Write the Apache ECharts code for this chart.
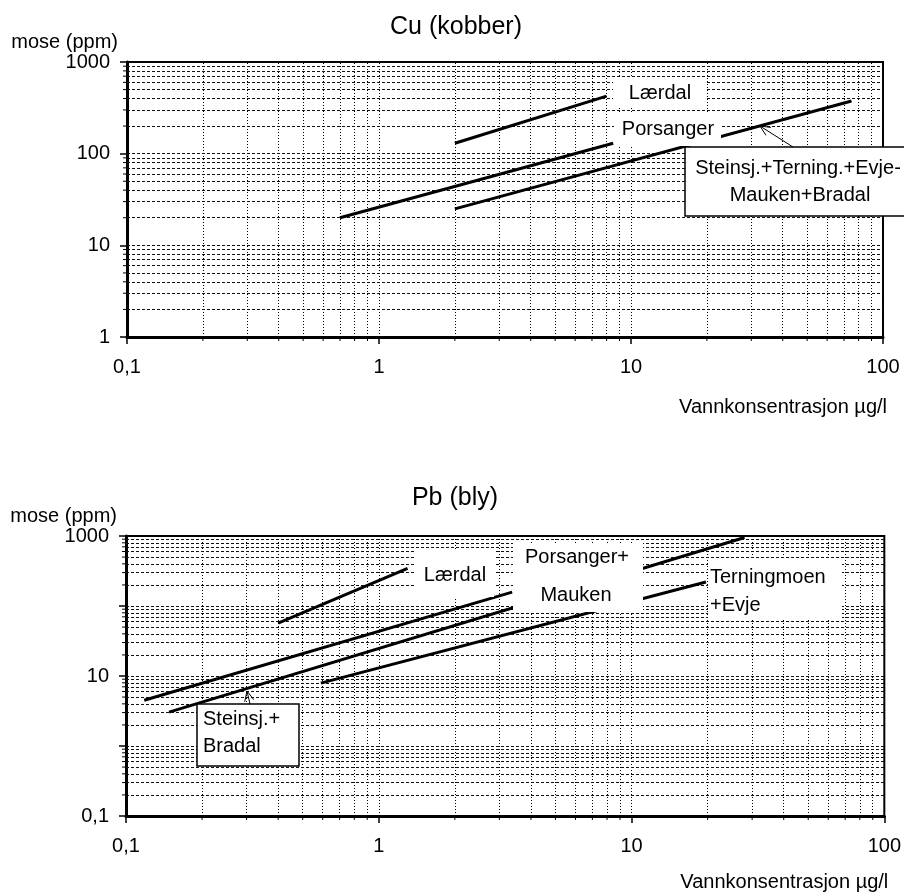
<!DOCTYPE html>
<html>
<head>
<meta charset="utf-8">
<script src="https://cdn.jsdelivr.net/npm/echarts@6/dist/echarts.min.js"></script>
<style>
html,body{margin:0;padding:0;background:#fff;}
#c{width:904px;height:894px;}
</style>
</head>
<body>
<div id="c"></div>
<script>
// ---------- DATA ----------
// Cu (kobber): [vannkonsentrasjon µg/l, mose ppm]
const cuLaerdal    = [[2, 130], [8, 425]];
const cuPorsanger  = [[0.7, 20], [8.5, 130]];
const cuSteinsj    = [[2, 25], [75, 375]];   // Steinsj.+Terning.+Evje-Mauken+Bradal
// Pb (bly)
const pbLaerdal       = [[0.4, 57], [1.3, 345]];
const pbPorsMauken    = [[0.118, 4.5], [3.37, 158]];
const pbSteinsjBradal = [[0.148, 3.05], [28, 950]];
const pbTernEvje      = [[0.59, 7.9], [19.7, 220]];

const xTickLabels  = [0.1, 1, 10, 100];
const cuYTickLabels = [1, 10, 100, 1000];
const pbYTickLabels = [0.1, 10, 1000];

const cuTitle = 'Cu (kobber)';
const pbTitle = 'Pb (bly)';
const yName = 'mose (ppm)';
const xName = 'Vannkonsentrasjon µg/l';

// ---------- HELPERS ----------
const FONT = '"Liberation Sans", Arial, Helvetica, sans-serif';
const chart = echarts.init(document.getElementById('c'), null, {renderer: 'canvas'});

function fmtNum(v) {
  return v < 1 ? v.toFixed(1).replace('.', ',') : String(Math.round(v));
}
function inList(v, list) {
  return list.some(t => Math.abs(Math.log10(v) - Math.log10(t)) < 1e-6);
}
function decadeValues(min, max) {
  const out = [];
  const e0 = Math.round(Math.log10(min)), e1 = Math.round(Math.log10(max));
  for (let e = e0; e < e1; e++) {
    for (let k = 1; k <= 9; k++) {
      out.push({v: parseFloat((k * Math.pow(10, e)).toPrecision(6)), major: k === 1});
    }
  }
  out.push({v: max, major: true});
  return out;
}

function xAxisDef(gi, padTop) {
  return {
    type: 'log', logBase: 10, gridIndex: gi, min: 0.1, max: 100,
    axisLine: {show: true, onZero: false, lineStyle: {color: '#000', width: 3}},
    axisTick: {show: true, length: 7, lineStyle: {color: '#000', width: 1.5}},
    axisLabel: {show: true, margin: 20, color: '#000', fontSize: 20, fontFamily: FONT,
      formatter: v => inList(v, xTickLabels) ? fmtNum(v) : ''},
    splitLine: {show: false},
    name: xName, nameLocation: 'end', nameGap: 4,
    nameTextStyle: {color: '#000', fontSize: 20, fontFamily: FONT, align: 'right',
      verticalAlign: 'top', padding: [padTop, 0, 0, 0]}
  };
}
function yAxisDef(gi, min, max, labels) {
  return {
    type: 'log', logBase: 10, gridIndex: gi, min: min, max: max,
    axisLine: {show: true, onZero: false, lineStyle: {color: '#000', width: 3}},
    axisTick: {show: true, length: 7, lineStyle: {color: '#000', width: 1.5}},
    axisLabel: {show: true, margin: 17, color: '#000', fontSize: 20, fontFamily: FONT,
      formatter: v => inList(v, labels) ? fmtNum(v) : ''},
    splitLine: {show: false},
    name: yName, nameLocation: 'end', nameGap: 19,
    nameTextStyle: {color: '#000', fontSize: 20, fontFamily: FONT, align: 'right',
      verticalAlign: 'middle', padding: [0, 9, 0, 0]}
  };
}
function dataSeries(name, data, gi) {
  return {type: 'line', name, data, xAxisIndex: gi, yAxisIndex: gi,
    symbol: 'none', silent: true, z: 3, animation: false,
    lineStyle: {color: '#000', width: 3}};
}
function gridSeries(gi, x0, x1, y0, y1) {
  const items = [];
  decadeValues(x0, x1).forEach(d => {
    if (d.v > x0 && d.v < x1) items.push({xAxis: d.v, lineStyle: {type: [1, 2], color: '#000', width: 1}});
  });
  decadeValues(y0, y1).forEach(d => {
    if (d.v > y0 && d.v < y1) items.push({yAxis: d.v, lineStyle: {type: [3, 2], color: '#111', width: 1}});
  });
  return {type: 'line', data: [], xAxisIndex: gi, yAxisIndex: gi, z: 1, silent: true, animation: false,
    markLine: {silent: true, symbol: 'none', z: 1, animation: false, label: {show: false},
      emphasis: {disabled: true}, data: items}};
}

const option = {
  backgroundColor: '#fff',
  animation: false,
  title: [
    {text: cuTitle, left: 456, top: 15, textAlign: 'center', padding: 0,
      textStyle: {fontSize: 25, fontWeight: 'normal', color: '#000', fontFamily: FONT}},
    {text: pbTitle, left: 455, top: 486, textAlign: 'center', padding: 0,
      textStyle: {fontSize: 25, fontWeight: 'normal', color: '#000', fontFamily: FONT}}
  ],
  grid: [
    {left: 127, top: 62, right: 21, height: 275, show: true, borderColor: '#000', borderWidth: 2, backgroundColor: 'transparent'},
    {left: 126, top: 536, right: 19, height: 280, show: true, borderColor: '#000', borderWidth: 2, backgroundColor: 'transparent'}
  ],
  xAxis: [xAxisDef(0, 60), xAxisDef(1, 56)],
  yAxis: [yAxisDef(0, 1, 1000, cuYTickLabels), yAxisDef(1, 0.1, 1000, pbYTickLabels)],
  series: [
    gridSeries(0, 0.1, 100, 1, 1000),
    gridSeries(1, 0.1, 100, 0.1, 1000),
    dataSeries('Lærdal', cuLaerdal, 0),
    dataSeries('Porsanger', cuPorsanger, 0),
    dataSeries('Steinsj.+Terning.+Evje-Mauken+Bradal', cuSteinsj, 0),
    dataSeries('Lærdal', pbLaerdal, 1),
    dataSeries('Porsanger+Mauken', pbPorsMauken, 1),
    dataSeries('Steinsj.+Bradal', pbSteinsjBradal, 1),
    dataSeries('Terningmoen+Evje', pbTernEvje, 1)
  ]
};
chart.setOption(option);

// ---------- ANNOTATIONS / MINOR TICKS ----------
const els = [];
function px(gi, x, y) { return chart.convertToPixel({gridIndex: gi}, [x, y]); }
[[0, 0.1, 100, 1, 1000], [1, 0.1, 100, 0.1, 1000]].forEach(([gi, x0, x1, y0, y1]) => {
  decadeValues(x0, x1).forEach(d => {
    if (!d.major) {
      const p = px(gi, d.v, y0);
      els.push({type: 'line', silent: true, z: 50,
        shape: {x1: p[0], y1: p[1], x2: p[0], y2: p[1] + 4}, style: {stroke: '#000', lineWidth: 1}});
    }
  });
  decadeValues(y0, y1).forEach(d => {
    if (!d.major) {
      const p = px(gi, x0, d.v);
      els.push({type: 'line', silent: true, z: 50,
        shape: {x1: p[0] - 4, y1: p[1], x2: p[0], y2: p[1]}, style: {stroke: '#000', lineWidth: 1}});
    }
  });
});
function whiteRect(x, y, w, h) {
  return {type: 'rect', silent: true, z: 60, shape: {x, y, width: w, height: h}, style: {fill: '#fff'}};
}
function boxRect(x, y, w, h) {
  return {type: 'rect', silent: true, z: 60, shape: {x, y, width: w, height: h},
    style: {fill: '#fff', stroke: '#000', lineWidth: 1.5}};
}
function txt(s, x, y, align) {
  return {type: 'text', silent: true, z: 62, x, y,
    style: {text: s, font: '20px ' + FONT, fill: '#000',
      align: align || 'center', verticalAlign: 'middle',
      textAlign: align || 'center', textVerticalAlign: 'middle'}};
}
function arrow(tx, ty, fx, fy) {
  const dx = fx - tx, dy = fy - ty, L = Math.hypot(dx, dy);
  const ux = dx / L, uy = dy / L, a = 25 * Math.PI / 180, len = 11;
  const w1 = [tx + len * (ux * Math.cos(a) - uy * Math.sin(a)), ty + len * (ux * Math.sin(a) + uy * Math.cos(a))];
  const w2 = [tx + len * (ux * Math.cos(-a) - uy * Math.sin(-a)), ty + len * (ux * Math.sin(-a) + uy * Math.cos(-a))];
  return [
    {type: 'line', silent: true, z: 63, shape: {x1: fx, y1: fy, x2: tx, y2: ty}, style: {stroke: '#000', lineWidth: 1}},
    {type: 'polyline', silent: true, z: 63, shape: {points: [w1, [tx, ty], w2]}, style: {stroke: '#000', lineWidth: 1, fill: null}}
  ];
}
// Cu
els.push(whiteRect(613, 77, 92, 31), txt('Lærdal', 660, 93));
els.push(whiteRect(614, 113, 107, 33), txt('Porsanger', 668, 129));
els.push(boxRect(685, 147, 240, 69), txt('Steinsj.+Terning.+Evje-', 798, 168), txt('Mauken+Bradal', 800, 195));
els.push(...arrow(760, 126, 793, 147));
// Pb
els.push(whiteRect(415, 550, 79, 47), txt('Lærdal', 455, 575));
els.push(whiteRect(513, 543, 130, 69), txt('Porsanger+', 577, 557), txt('Mauken', 576, 595));
els.push(whiteRect(708, 560, 134, 60), txt('Terningmoen', 710, 577, 'left'), txt('+Evje', 710, 605, 'left'));
els.push(boxRect(197, 704, 102, 62), txt('Steinsj.+', 203, 719, 'left'), txt('Bradal', 203, 746, 'left'));
els.push(...arrow(247, 691, 250, 704));

chart.setOption({graphic: {elements: els}});
</script>
</body>
</html>
